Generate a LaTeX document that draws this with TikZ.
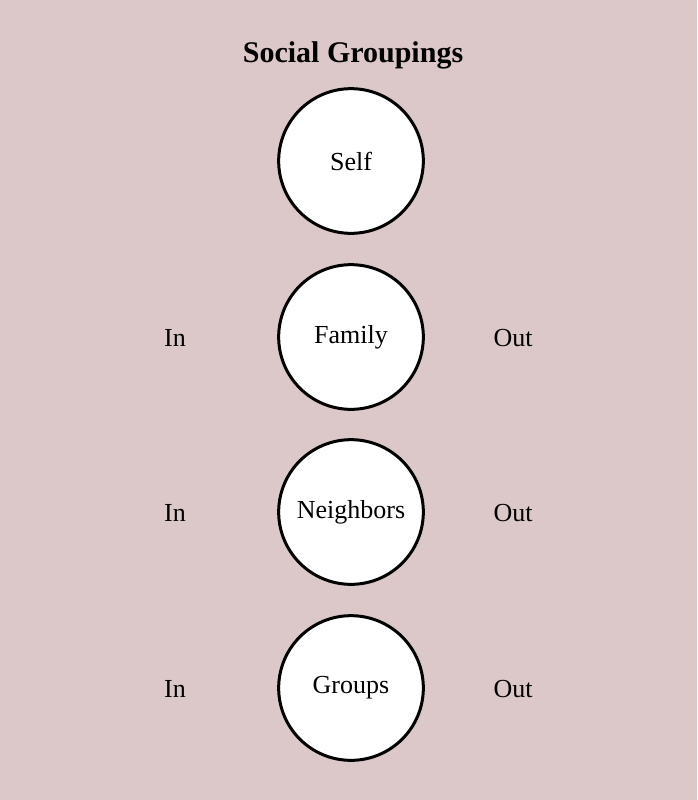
\documentclass[tikz,border=0pt]{standalone}
\usepackage{fontspec}
\setmainfont{Liberation Serif}
\usepackage{tikz}
\definecolor{bgpink}{HTML}{DCC8C9}
\tikzset{
    group/.style={shape=circle, draw=black, fill=white, line width=2.25pt, minimum size=108.5pt, inner sep=0pt, font=\fontsize{19.5}{22}\selectfont},
    side/.style={font=\fontsize{19.5}{22}\selectfont}}

\begin{document}
\begin{tikzpicture}[x=0.75pt, y=-0.75pt]

                    \fill[bgpink] (0,0) rectangle (697,800);
                    \useasboundingbox (0,0) rectangle (697,800);

                    \node[font=\fontsize{22.5}{26}\selectfont\bfseries] (T) at (353,55) {Social Groupings};

                    \node[group] (S) at (351,161) {Self};
                    \node[group] (F) at (351,337) {Family};
                    \node[group] (N) at (351,512) {Neighbors};
                    \node[group] (G) at (351,688) {Groups};

                    \node[side] (FI) at (175,338) {In};
                    \node[side] (FO) at (513,338) {Out};
                    \node[side] (NI) at (175,513) {In};
                    \node[side] (NO) at (513,513) {Out};
                    \node[side] (GI) at (175,689) {In};
                    \node[side] (GO) at (513,689) {Out};

\end{tikzpicture}
\end{document}
